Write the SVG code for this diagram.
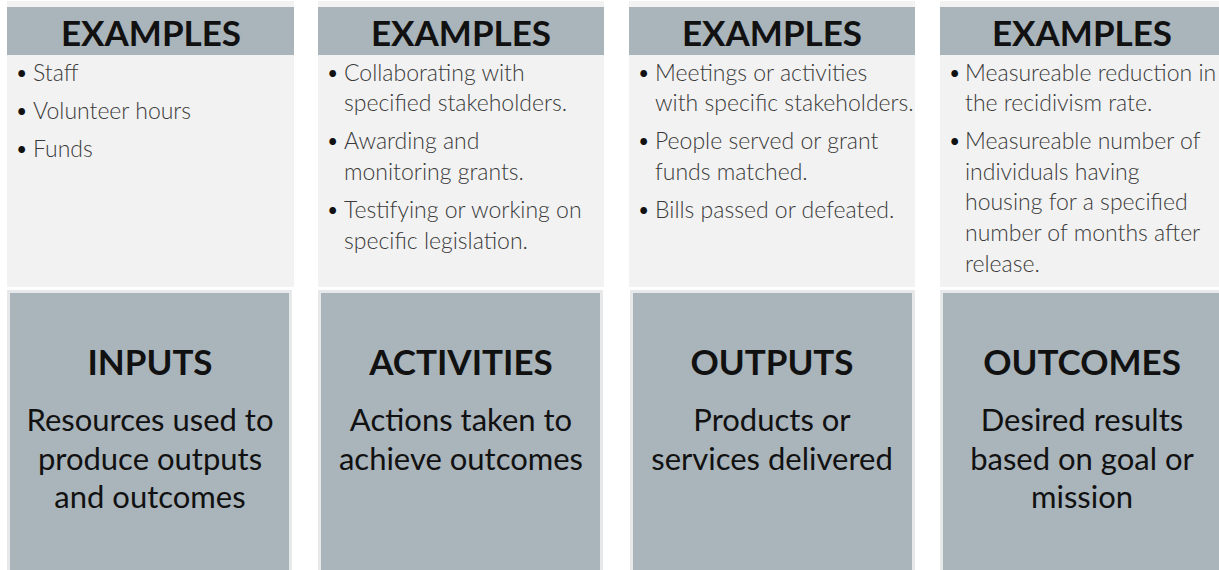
<svg xmlns="http://www.w3.org/2000/svg" width="1219" height="570" viewBox="0 0 1219 570">
<style>
.panel{fill:#f2f2f2}
.band{fill:#a9b4bb}
.box{fill:#a9b4bb;stroke:#e6e8ea;stroke-width:3}
.hdr{font-family:Lato,"Liberation Sans",sans-serif;font-weight:700;font-size:35px;fill:#111;text-anchor:middle}
.item{font-family:Lato,"Liberation Sans",sans-serif;font-weight:300;font-size:23px;fill:#3a3a3a}
.blt{fill:#111}
.ttl{font-family:Lato,"Liberation Sans",sans-serif;font-weight:700;font-size:35px;fill:#111;text-anchor:middle}
.sub{font-family:Lato,"Liberation Sans",sans-serif;font-weight:400;font-size:31px;fill:#111;text-anchor:middle}
</style>
<rect width="1219" height="570" fill="#ffffff"/>
<g id="examples-inputs">
<rect class="panel" x="7" y="1" width="287" height="286"/>
<rect class="band" x="7" y="7" width="287" height="48"/>
<text class="hdr" x="151" y="46">EXAMPLES</text>
<text class="item" y="81"><tspan class="blt" x="15">•</tspan><tspan x="33">Staff</tspan></text>
<text class="item" y="119"><tspan class="blt" x="15">•</tspan><tspan x="33">Volunteer hours</tspan></text>
<text class="item" y="157"><tspan class="blt" x="15">•</tspan><tspan x="33">Funds</tspan></text>
</g>
<g id="examples-activities">
<rect class="panel" x="318" y="1" width="286" height="286"/>
<rect class="band" x="318" y="7" width="286" height="48"/>
<text class="hdr" x="461" y="46">EXAMPLES</text>
<text class="item" y="81"><tspan class="blt" x="326">•</tspan><tspan x="344">Collaborating with</tspan></text>
<text class="item" x="344" y="111">specified stakeholders.</text>
<text class="item" y="149"><tspan class="blt" x="326">•</tspan><tspan x="344">Awarding and</tspan></text>
<text class="item" x="344" y="180">monitoring grants.</text>
<text class="item" y="218"><tspan class="blt" x="326">•</tspan><tspan x="344">Testifying or working on</tspan></text>
<text class="item" x="344" y="249">specific legislation.</text>
</g>
<g id="examples-outputs">
<rect class="panel" x="629" y="1" width="286" height="286"/>
<rect class="band" x="629" y="7" width="286" height="48"/>
<text class="hdr" x="772" y="46">EXAMPLES</text>
<text class="item" y="81"><tspan class="blt" x="637">•</tspan><tspan x="655">Meetings or activities</tspan></text>
<text class="item" x="655" y="111">with specific stakeholders.</text>
<text class="item" y="149"><tspan class="blt" x="637">•</tspan><tspan x="655">People served or grant</tspan></text>
<text class="item" x="655" y="180">funds matched.</text>
<text class="item" y="218"><tspan class="blt" x="637">•</tspan><tspan x="655">Bills passed or defeated.</tspan></text>
</g>
<g id="examples-outcomes">
<rect class="panel" x="940" y="1" width="279" height="286"/>
<rect class="band" x="940" y="7" width="279" height="48"/>
<text class="hdr" x="1082" y="46">EXAMPLES</text>
<text class="item" y="81"><tspan class="blt" x="948">•</tspan><tspan x="965">Measureable reduction in</tspan></text>
<text class="item" x="965" y="111">the recidivism rate.</text>
<text class="item" y="149"><tspan class="blt" x="948">•</tspan><tspan x="965">Measureable number of</tspan></text>
<text class="item" x="965" y="180">individuals having</text>
<text class="item" x="965" y="210">housing for a specified</text>
<text class="item" x="965" y="241">number of months after</text>
<text class="item" x="965" y="272">release.</text>
</g>
<g id="inputs">
<rect class="box" x="8.5" y="291.5" width="282" height="290"/>
<text class="ttl" x="150" y="375">INPUTS</text>
<text class="sub" x="150" y="431">Resources used to</text>
<text class="sub" x="150" y="469.5">produce outputs</text>
<text class="sub" x="150" y="508">and outcomes</text>
</g>
<g id="activities">
<rect class="box" x="319.5" y="291.5" width="282" height="290"/>
<text class="ttl" x="461" y="375">ACTIVITIES</text>
<text class="sub" x="461" y="431">Actions taken to</text>
<text class="sub" x="461" y="469.5">achieve outcomes</text>
</g>
<g id="outputs">
<rect class="box" x="631.5" y="291.5" width="282" height="290"/>
<text class="ttl" x="772" y="375">OUTPUTS</text>
<text class="sub" x="772" y="431">Products or</text>
<text class="sub" x="772" y="469.5">services delivered</text>
</g>
<g id="outcomes">
<rect class="box" x="941.5" y="291.5" width="290" height="290"/>
<text class="ttl" x="1082" y="375">OUTCOMES</text>
<text class="sub" x="1082" y="431">Desired results</text>
<text class="sub" x="1082" y="469.5">based on goal or</text>
<text class="sub" x="1082" y="508">mission</text>
</g>
<g id="connectors"></g>
</svg>
